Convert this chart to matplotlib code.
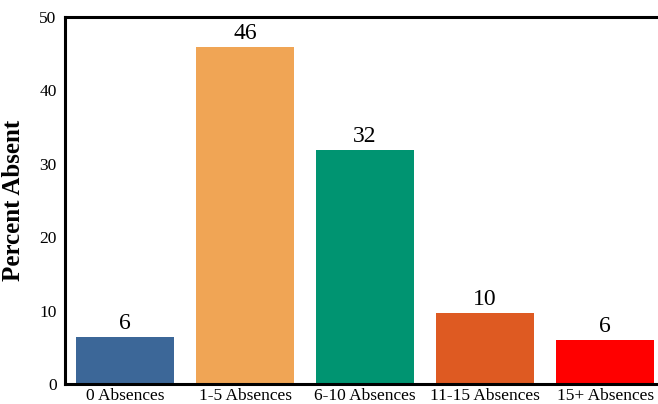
import matplotlib
matplotlib.use("Agg")
import matplotlib.pyplot as plt

categories = ["0 Absences", "1-5 Absences", "6-10 Absences", "11-15 Absences", "15+ Absences"]
percent = [6.4, 45.9, 31.9, 9.7, 6.0]
labels = ["6", "46", "32", "10", "6"]
colors = ["#3c6798", "#f0a555", "#009471", "#de5a22", "#ff0000"]

plt.rcParams["font.family"] = "Liberation Serif"

fig = plt.figure(figsize=(6.58, 4.04), dpi=100)
ax = fig.add_axes([65 / 658, 20 / 404, 593 / 658, 367 / 404])

x = range(len(categories))
bars = ax.bar(x, percent, width=0.817, color=colors)

for b, lab in zip(bars, labels):
    ax.annotate(lab, (b.get_x() + b.get_width() / 2, b.get_height()),
                xytext=(0, 2), textcoords="offset points",
                ha="center", va="bottom", fontsize=17)

ax.set_xlim(-0.5, 4.44)
ax.set_ylim(0, 50)
ax.set_yticks(range(0, 51, 10))
ax.set_xticks(list(x))
ax.set_xticklabels(categories, fontsize=12.5)
ax.tick_params(axis="y", labelsize=12.5, length=0, pad=6)
ax.tick_params(axis="x", length=0, pad=3)
ax.set_ylabel("Percent Absent", fontsize=18, fontweight="bold")
ax.yaxis.set_label_coords(-0.067, 0.5)

ax.spines["right"].set_visible(False)
for s in ["left", "top", "bottom"]:
    ax.spines[s].set_linewidth(2.2)

fig.savefig("out.png", dpi=100)
